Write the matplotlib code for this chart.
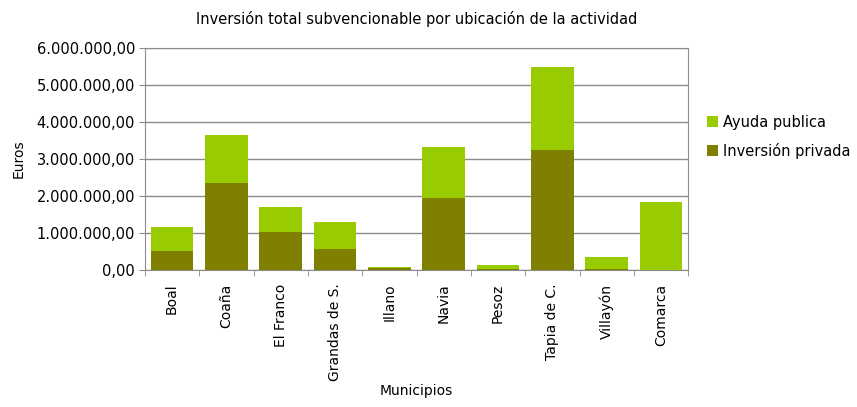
import matplotlib.pyplot as plt
import numpy as np
from matplotlib.ticker import FuncFormatter

municipios = ['Boal', 'Coaña', 'El Franco', 'Grandas de S.', 'Illano',
              'Navia', 'Pesoz', 'Tapia de C.', 'Villayón', 'Comarca']
inversion_privada = [520000, 2350000, 1020000, 570000, 45000,
                     1930000, 15000, 3230000, 30000, 0]
total = [1150000, 3660000, 1690000, 1300000, 65000,
         3320000, 120000, 5500000, 350000, 1830000]
ayuda_publica = [t - p for t, p in zip(total, inversion_privada)]

plt.rcParams['font.family'] = 'DejaVu Sans'

fig = plt.figure(figsize=(8.57, 4.07), dpi=100)
ax = fig.add_axes([0.169, 0.337, 0.634, 0.545])

x = np.arange(len(municipios))
width = 0.79
ax.bar(x, inversion_privada, width, color='#808000', label='Inversión privada', zorder=3)
ax.bar(x, ayuda_publica, width, bottom=inversion_privada, color='#99CC00',
       label='Ayuda publica', zorder=3)

ax.set_xlim(-0.5, len(municipios) - 0.5)
ax.set_ylim(0, 6000000)
ax.set_yticks(np.arange(0, 6000001, 1000000))

def euro_fmt(v, pos):
    s = f'{v:,.2f}'
    return s.replace(',', 'X').replace('.', ',').replace('X', '.')

ax.yaxis.set_major_formatter(FuncFormatter(euro_fmt))
ax.grid(axis='y', color='#8c8c8c', linewidth=1.0, zorder=0)

ax.set_xticks(x)
ax.set_xticklabels(municipios, rotation=90, fontsize=10)
ax.set_xticks(np.arange(-0.5, len(municipios), 1), minor=True)
ax.tick_params(axis='x', which='major', length=0, pad=10)
ax.tick_params(axis='x', which='minor', length=4, color='#8c8c8c')
ax.tick_params(axis='y', length=4, color='#8c8c8c', labelsize=10.5, pad=3)

for sp in ax.spines.values():
    sp.set_color('#8c8c8c')

ax.set_xlabel('Municipios', fontsize=10, labelpad=2)
ax.set_ylabel('Euros', fontsize=10, labelpad=8)
ax.set_title('Inversión total subvencionable por ubicación de la actividad',
             fontsize=10.5, pad=17)

handles, labels = ax.get_legend_handles_labels()
ax.legend(handles[::-1], labels[::-1], loc='center left', bbox_to_anchor=(1.01, 0.6),
          frameon=False, fontsize=10.5, handlelength=0.8, handleheight=0.8,
          handletextpad=0.3, labelspacing=0.9)

fig.savefig('out.png', dpi=100)
